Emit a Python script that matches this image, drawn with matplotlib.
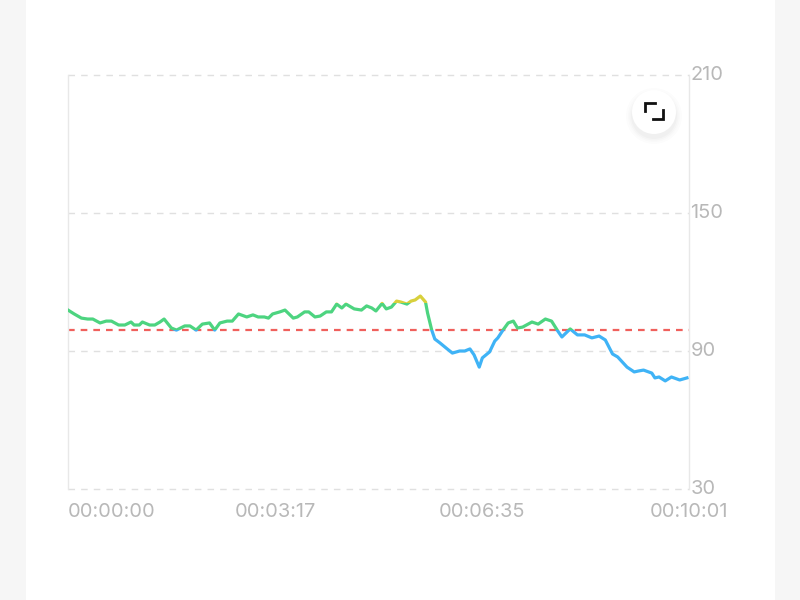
import matplotlib
matplotlib.use('Agg')
import matplotlib.pyplot as plt
from matplotlib.patches import Circle, Rectangle
from matplotlib.transforms import ScaledTranslation

plt.rcParams['font.family'] = ['Inter', 'DejaVu Sans']

# seconds since start
times = [0, 6, 13, 19, 24, 31, 37, 42, 49, 55, 61, 64, 69, 72, 79, 84, 89, 93, 100, 105,
         113, 118, 124, 130, 137, 142, 147, 154, 159, 165, 173, 179, 184, 190, 194, 198, 205, 210,
         218, 222, 229, 233, 239, 244, 250, 255, 260, 265, 269, 277, 284, 289, 294, 298,
         304, 308, 313, 318, 322, 328, 332, 336, 341, 346, 348, 352, 355, 360, 367, 372,
         379, 384, 389, 393, 398, 401, 408, 413, 416, 421, 426, 431, 435, 440, 449, 455,
         462, 468, 474, 478, 486, 493, 500, 507, 514, 520, 527, 532, 541, 548, 552, 557,
         565, 568, 572, 578, 584, 592, 599]
values = [107.8, 106.1, 104.3, 103.9, 103.9, 102.2, 103, 103, 101.3, 101.3, 102.6, 101.3, 101.3, 102.6, 101.3, 101.3, 102.6, 103.9, 100, 99.1,
          100.9, 100.9, 99.1, 101.7, 102.2, 99.1, 102.2, 103, 103, 106.1, 104.8, 105.7, 104.8, 104.8, 104.3, 106.1, 107, 107.8,
          104.3, 104.8, 107, 107, 104.8, 105.2, 107, 107, 110.4, 108.7, 110.4, 108.3, 107.8, 109.6, 108.7, 107.4,
          110.7, 108.3, 109.1, 111.7, 111.3, 110.4, 111.7, 112.2, 113.9, 111.3, 106.5, 99.1, 95.2, 93.5, 90.9, 89.1,
          90, 90, 90.9, 88.3, 83, 87, 89.6, 94.3, 95.7, 99.1, 102.2, 103, 100, 100.4, 102.6, 101.7,
          103.9, 103, 98.7, 96.1, 99.6, 97, 97, 95.7, 96.5, 94.8, 88.7, 87.4, 83, 80.9, 81.3, 81.7,
          80.4, 78.3, 78.7, 77, 78.7, 77.4, 78.3]

limit = 99
yellow_from = 110.9
y_ticks = [30, 90, 150, 210]
x_ticks = [0, 201, 401, 601]
x_labels = ['00:00:00', '00:03:17', '00:06:35', '00:10:01']

W, H = 800, 600
fig = plt.figure(figsize=(W / 100, H / 100), dpi=100, facecolor='#f6f6f6')
fig.add_artist(Rectangle((26 / W, 0), 749 / W, 1, transform=fig.transFigure,
                         facecolor='white', edgecolor='none', zorder=-1))

ax = fig.add_axes([68 / W, 1 - 489 / H, 621 / W, 414 / H])
ax.set_xlim(0, 601)
ax.set_ylim(30, 210)
ax.patch.set_visible(False)

for s in ['top', 'bottom']:
    ax.spines[s].set_visible(False)
for s in ['left', 'right']:
    ax.spines[s].set_color('#e8e8e8')
    ax.spines[s].set_linewidth(1)

ax.yaxis.tick_right()
ax.set_yticks(y_ticks)
ax.set_xticks(x_ticks)
ax.set_xticklabels(x_labels)
ax.xaxis.get_majorticklabels()[0].set_ha('left')
ax.tick_params(length=0, labelcolor='#b8b8b8', labelsize=14.4)
ax.tick_params(axis='y', pad=1)
ax.tick_params(axis='x', pad=10)
up = ScaledTranslation(0, 2 / 100, fig.dpi_scale_trans)
for lab in ax.get_yticklabels():
    lab.set_transform(lab.get_transform() + up)

ax.grid(axis='y', color='#e0e0e0', lw=1, linestyle=(0, (4.7, 4.4)), clip_on=False)
ax.set_axisbelow(True)

ax.axhline(limit, color='#f0605c', lw=1.6, linestyle=(0, (3, 2.7)), zorder=2)

# line colour depends on the value band, so draw it once per band and clip
bands = [(30, limit, '#3fb3f6'), (limit, yellow_from, '#4dd480'), (yellow_from, 210, '#d8d03c')]
for lo, hi, col in bands:
    ln, = ax.plot(times, values, color=col, lw=2.3, solid_joinstyle='round', zorder=3)
    clip = Rectangle((0, lo), 601, hi - lo, transform=ax.transData)
    ln.set_clip_path(clip)

# expand button drawn in pixel coordinates
ov = fig.add_axes([0, 0, 1, 1])
ov.set_xlim(0, W)
ov.set_ylim(H, 0)
ov.axis('off')
for r, a in [(28, 0.01), (26, 0.012), (24.5, 0.015), (23, 0.02)]:
    ov.add_patch(Circle((654, 116), r, facecolor='black', edgecolor='none', alpha=a))
ov.add_patch(Circle((654, 112), 22, facecolor='white', edgecolor='none'))
ov.plot([644.5, 644.5, 654.5], [111, 102.5, 102.5], color='#111111', lw=2, solid_joinstyle='miter')
ov.plot([652.5, 662.5, 662.5], [119, 119, 109.5], color='#111111', lw=2, solid_joinstyle='miter')

fig.savefig('out.png', dpi=100, facecolor=fig.get_facecolor())
